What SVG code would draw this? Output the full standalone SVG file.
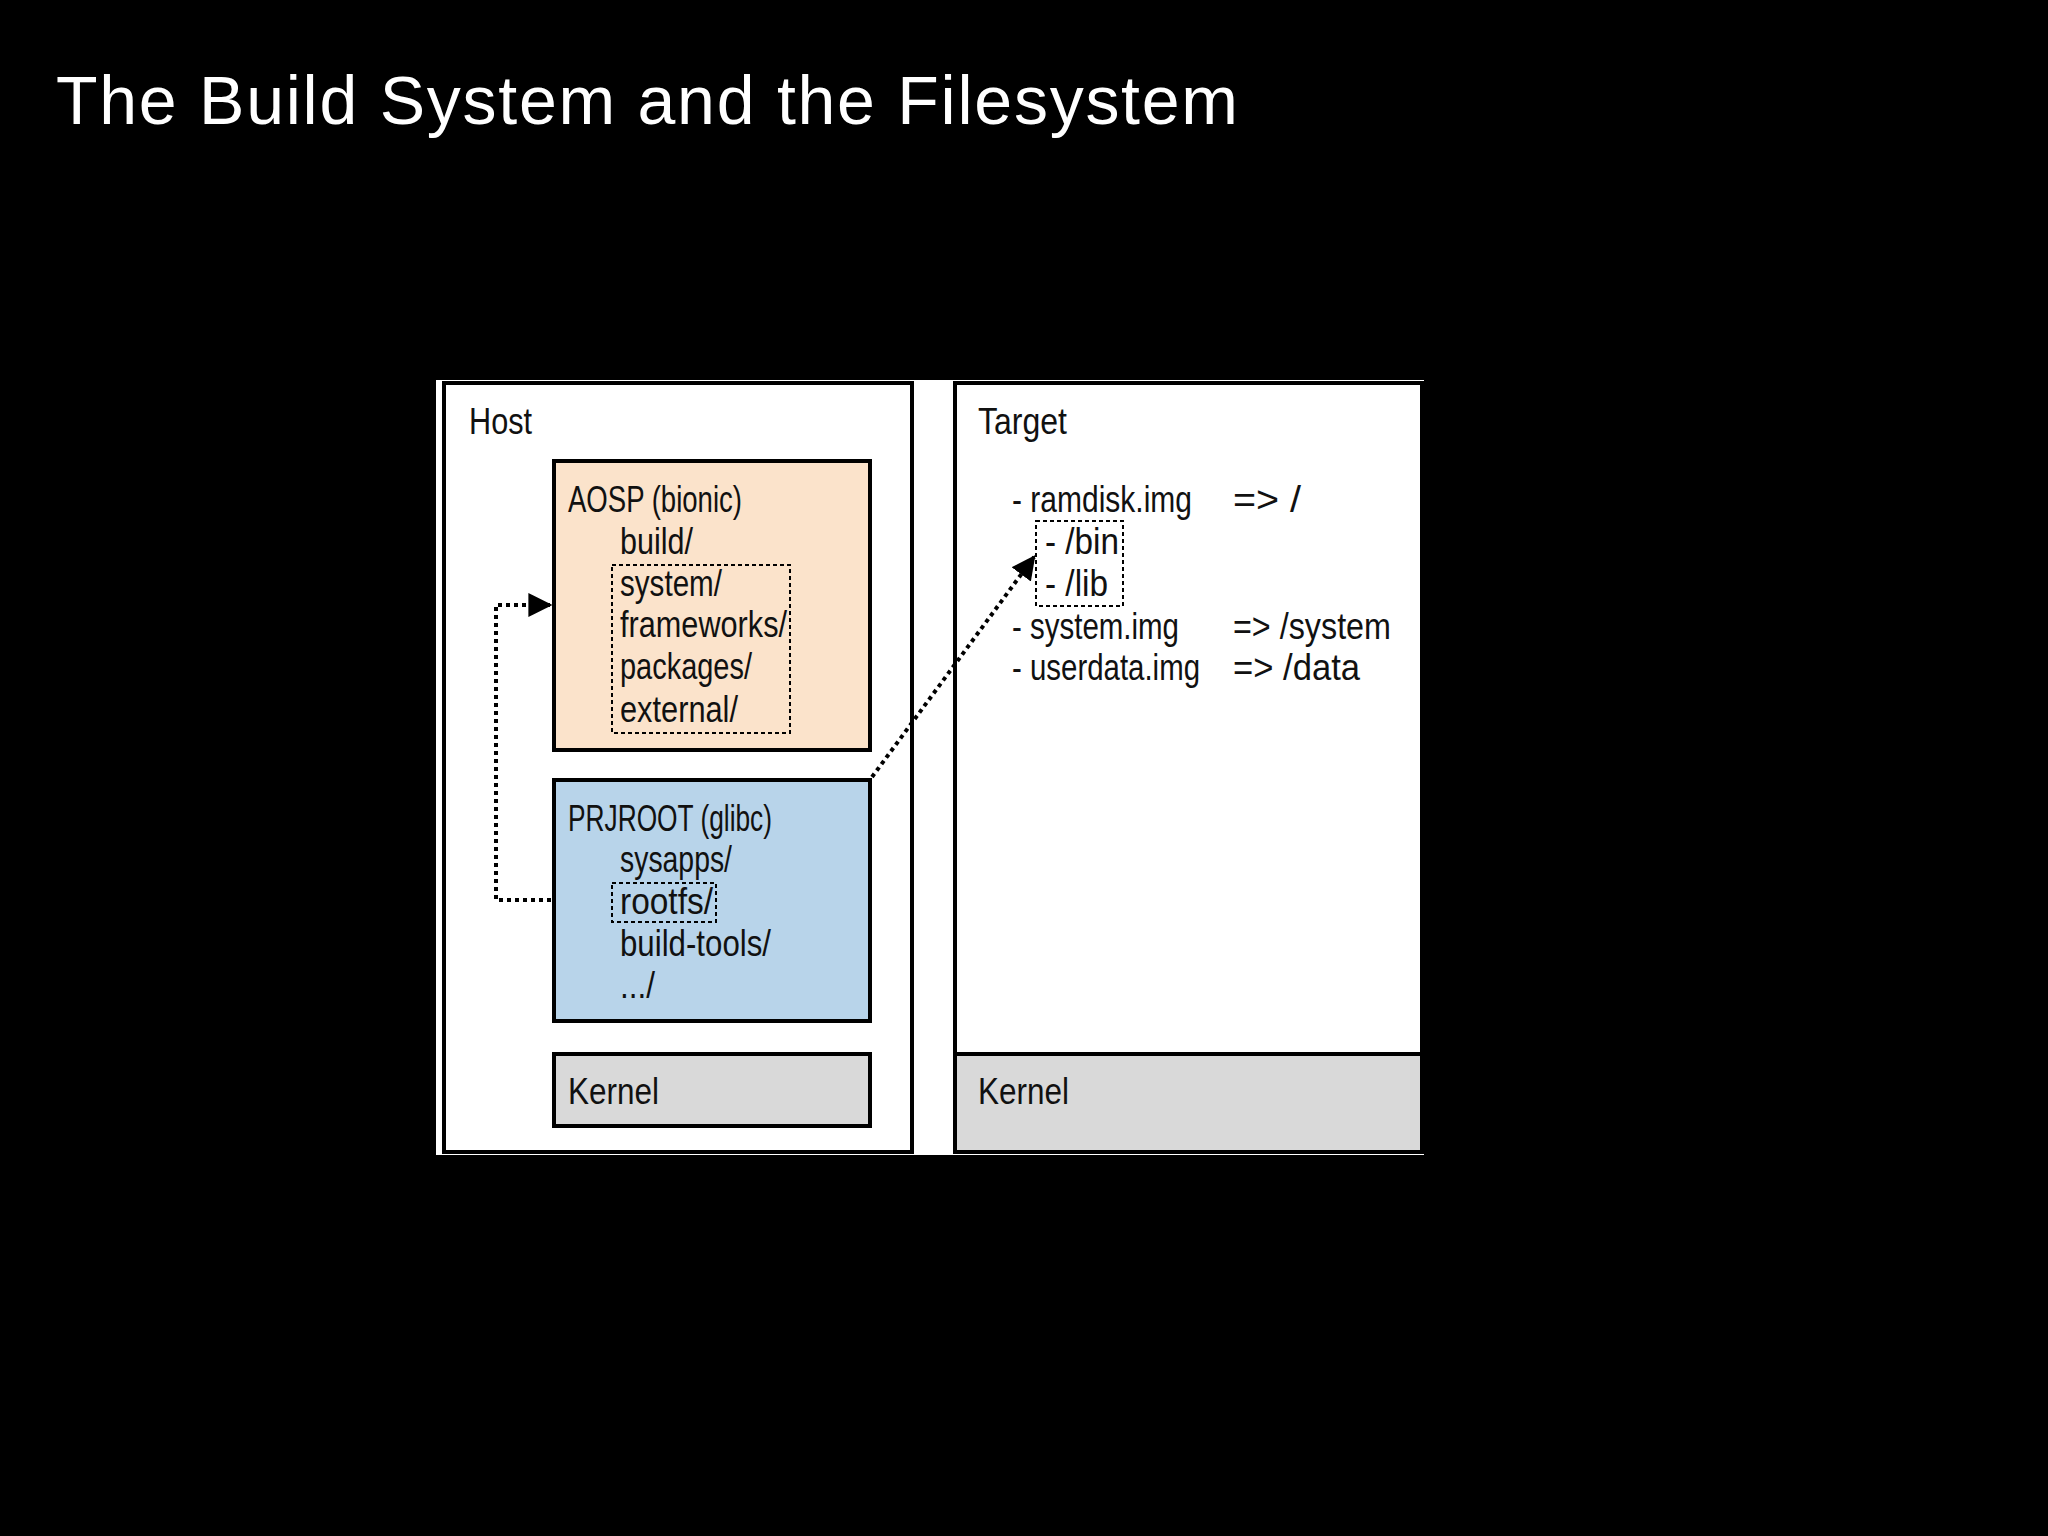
<svg xmlns="http://www.w3.org/2000/svg" width="2048" height="1536" viewBox="0 0 2048 1536">
<style>
.t{font-family:"Liberation Sans",Arial,sans-serif;font-size:37px;fill:#111}
.b{stroke:#000;stroke-width:4}
.d{fill:none;stroke:#000;stroke-width:2;stroke-dasharray:4 3}
.c{fill:none;stroke:#000;stroke-width:4;stroke-dasharray:4 4}
</style>
<defs><marker id="a" viewBox="0 0 10 10" refX="9" refY="5" markerWidth="6" markerHeight="6" markerUnits="strokeWidth" orient="auto"><path d="M0,0L10,5L0,10z" fill="#000"/></marker></defs>
<rect width="2048" height="1536" fill="#000"/>
<text x="56" y="124" font-family="Liberation Sans,sans-serif" font-size="68" fill="#fff" textLength="1182">The Build System and the Filesystem</text>
<rect x="436" y="380" width="988" height="775" fill="#fff"/>
<g id="host"><rect x="444" y="383" width="468" height="769" fill="#fff" class="b"/><text class="t" x="469" y="434" textLength="63" lengthAdjust="spacingAndGlyphs">Host</text></g>
<g id="target"><rect x="955" y="383" width="467" height="769" fill="#fff" class="b"/><text class="t" x="978" y="434" textLength="89" lengthAdjust="spacingAndGlyphs">Target</text>
<text class="t" x="1012" y="512" textLength="180" lengthAdjust="spacingAndGlyphs">- ramdisk.img</text><text class="t" x="1233" y="512" textLength="68" lengthAdjust="spacingAndGlyphs">=&gt; /</text>
<rect class="d" x="1036" y="521" width="87" height="85"/>
<text class="t" x="1045" y="554" textLength="74" lengthAdjust="spacingAndGlyphs">- /bin</text><text class="t" x="1045" y="596" textLength="63" lengthAdjust="spacingAndGlyphs">- /lib</text>
<text class="t" x="1012" y="639" textLength="167" lengthAdjust="spacingAndGlyphs">- system.img</text><text class="t" x="1233" y="639" textLength="158" lengthAdjust="spacingAndGlyphs">=&gt; /system</text>
<text class="t" x="1012" y="680" textLength="188" lengthAdjust="spacingAndGlyphs">- userdata.img</text><text class="t" x="1233" y="680" textLength="127" lengthAdjust="spacingAndGlyphs">=&gt; /data</text></g>
<g id="target-kernel"><rect x="955" y="1054" width="467" height="98" fill="#d9d9d9" class="b"/><text class="t" x="978" y="1104" textLength="91" lengthAdjust="spacingAndGlyphs">Kernel</text></g>
<g id="aosp"><rect x="554" y="461" width="316" height="289" fill="#fbe3cb" class="b"/>
<text class="t" x="568" y="512" textLength="174" lengthAdjust="spacingAndGlyphs">AOSP (bionic)</text><text class="t" x="620" y="554" textLength="73" lengthAdjust="spacingAndGlyphs">build/</text>
<rect class="d" x="612" y="565" width="178" height="168"/>
<text class="t" x="620" y="596" textLength="102" lengthAdjust="spacingAndGlyphs">system/</text><text class="t" x="620" y="637" textLength="167" lengthAdjust="spacingAndGlyphs">frameworks/</text><text class="t" x="620" y="679" textLength="132" lengthAdjust="spacingAndGlyphs">packages/</text><text class="t" x="620" y="722" textLength="118" lengthAdjust="spacingAndGlyphs">external/</text></g>
<g id="prjroot"><rect x="554" y="780" width="316" height="241" fill="#b8d4ea" class="b"/>
<text class="t" x="568" y="831" textLength="204" lengthAdjust="spacingAndGlyphs">PRJROOT (glibc)</text><text class="t" x="620" y="872" textLength="112" lengthAdjust="spacingAndGlyphs">sysapps/</text>
<rect class="d" x="612" y="883" width="104" height="39"/>
<text class="t" x="620" y="914" textLength="93" lengthAdjust="spacingAndGlyphs">rootfs/</text><text class="t" x="620" y="956" textLength="151" lengthAdjust="spacingAndGlyphs">build-tools/</text><text class="t" x="620" y="998" textLength="35" lengthAdjust="spacingAndGlyphs">.../</text></g>
<g id="host-kernel"><rect x="554" y="1054" width="316" height="72" fill="#d9d9d9" class="b"/><text class="t" x="568" y="1104" textLength="91" lengthAdjust="spacingAndGlyphs">Kernel</text></g>
<g id="connectors">
<path class="c" d="M551,900H496V605H550" marker-end="url(#a)"/>
<path class="c" d="M872,777L1034,557" marker-end="url(#a)"/>
</g>
</svg>
